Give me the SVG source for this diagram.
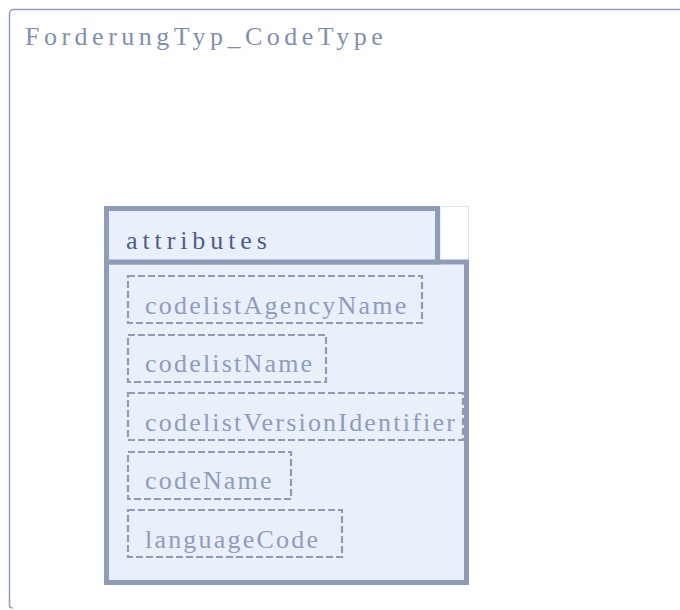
<svg xmlns="http://www.w3.org/2000/svg" width="680" height="610" viewBox="0 0 680 610">
<style>
.frame{fill:none;stroke:#8e9cb8;stroke-width:1.5}
.title{font-family:"Liberation Serif","Times New Roman",serif;font-size:26px;fill:#7f8fb2;letter-spacing:4.5px}
.box{fill:#eaf0fa;stroke:#8e9cb8;stroke-width:5}
.hdr{font-family:"Liberation Serif","Times New Roman",serif;font-size:26px;fill:#4d5d8e;letter-spacing:4.9px}
.attr{fill:none;stroke:#8e9cb8;stroke-width:2.2;stroke-dasharray:7,3}
.attrt{font-family:"Liberation Serif","Times New Roman",serif;font-size:26px;fill:#8e9cbe;letter-spacing:2.2px}
</style>
<rect width="680" height="610" fill="#ffffff"/>
<g id="ForderungTyp_CodeType">
<path class="frame" d="M 690 9.5 H 13.5 A 4 4 0 0 0 9.5 13.5 V 605 A 3 3 0 0 0 12.5 608"/>
<text class="title" x="25" y="45">ForderungTyp_CodeType</text>
</g>
<g id="attributes">
<rect x="440" y="206.5" width="28.5" height="56" fill="#ffffff" stroke="#dde4f0" stroke-width="1"/>
<rect class="box" x="106.5" y="262" width="360" height="320.5"/>
<rect class="box" x="106.5" y="208.5" width="331" height="53.5"/>
<text class="hdr" x="126" y="249">attributes</text>
</g>
<g id="codelistAgencyName">
<rect class="attr" x="128" y="276" width="294" height="47"/>
<text class="attrt" x="145" y="314">codelistAgencyName</text>
</g>
<g id="codelistName">
<rect class="attr" x="128" y="335" width="198" height="47"/>
<text class="attrt" x="145" y="372">codelistName</text>
</g>
<g id="codelistVersionIdentifier">
<rect class="attr" x="128" y="393" width="335" height="47"/>
<text class="attrt" x="145" y="431">codelistVersionIdentifier</text>
</g>
<g id="codeName">
<rect class="attr" x="128" y="452" width="163" height="47"/>
<text class="attrt" x="145" y="489">codeName</text>
</g>
<g id="languageCode">
<rect class="attr" x="128" y="510" width="214" height="47"/>
<text class="attrt" x="145" y="548">languageCode</text>
</g>
<g id="connectors"/>
</svg>
